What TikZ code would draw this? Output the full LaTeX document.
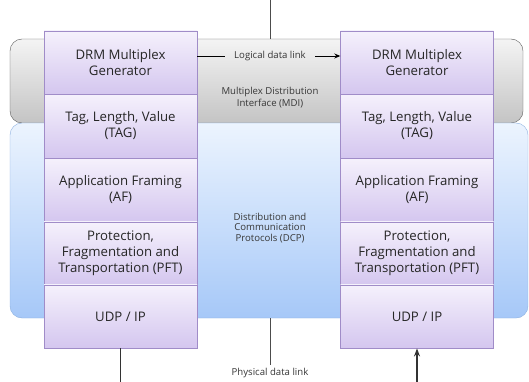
\documentclass[tikz,border=0pt]{standalone}
\usepackage{fontspec}
\setmainfont{Open Sans}
\usetikzlibrary{arrows.meta}

\definecolor{boxline}{RGB}{160,140,200}
\definecolor{boxtop}{RGB}{245,241,252}
\definecolor{boxbot}{RGB}{212,198,239}
\definecolor{mditop}{RGB}{244,244,244}
\definecolor{mdibot}{RGB}{196,196,196}
\definecolor{dcptop}{RGB}{236,244,254}
\definecolor{dcpbot}{RGB}{166,200,248}
\definecolor{dcpline}{RGB}{140,176,224}
\definecolor{notetext}{RGB}{55,55,55}

\tikzset{
  layer/.style={draw=boxline, top color=boxtop, bottom color=boxbot,
    minimum width=153pt, minimum height=63.5pt, inner sep=0pt,
    align=center, text=black!85, font=\fontsize{13.2}{16}\selectfont},
  band/.style={rounded corners=12pt, inner sep=0pt},
  note/.style={align=center, text=notetext, font=\fontsize{9.6}{12}\selectfont},
  link/.style={line width=1.2pt, black!80}
}

\begin{document}
\begin{tikzpicture}[x=1pt, y=-1pt]
\useasboundingbox (0,0) rectangle (529,382);

% bands
\node[band, draw=black!65, top color=mditop, bottom color=mdibot,
  minimum width=513pt, minimum height=84pt] (mdi) at (266.5,81) {};
\node[band, draw=dcpline, top color=dcptop, bottom color=dcpbot,
  minimum width=518pt, minimum height=195pt] (dcp) at (269,220.5) {};

\node[note] (mdilab) at (270,97.5) {Multiplex Distribution\\Interface (MDI)};
\node[note, font=\fontsize{9.6}{10.5}\selectfont] (dcplab) at (270,228) {Distribution and\\Communication\\Protocols (DCP)};
\node[note, outer xsep=6pt] (logic) at (270,56) {Logical data link};
\node[note] (phys) at (270,373) {Physical data link};

% left stack
\node[layer] (gen1) at (120.5,62.5) {DRM Multiplex\\Generator};
\node[layer] (tag1) at (120.5,126) {Tag, Length, Value\\(TAG)};
\node[layer] (af1) at (120.5,190) {Application Framing\\(AF)};
\node[layer] (pft1) at (120.5,253.5) {Protection,\\Fragmentation and\\Transportation (PFT)};
\node[layer] (udp1) at (120.5,316.5) {UDP / IP};

% right stack
\node[layer] (gen2) at (417,62.5) {DRM Multiplex\\Generator};
\node[layer] (tag2) at (417,126) {Tag, Length, Value\\(TAG)};
\node[layer] (af2) at (417,190) {Application Framing\\(AF)};
\node[layer] (pft2) at (417,253.5) {Protection,\\Fragmentation and\\Transportation (PFT)};
\node[layer] (udp2) at (417,316.5) {UDP / IP};

\coordinate (top) at (270,0);
\coordinate (out1) at (120.5,382);
\coordinate (in2) at (417,382);

\draw[black!70, line width=0.8pt] (top) -- (top |- mdi.north);
\draw[black!70, line width=0.8pt] (dcp.south -| phys) -- (phys.north);
\draw[line width=0.9pt] (gen1.east |- logic) -- (logic.west);
\draw[line width=0.9pt, -{Stealth[length=6pt, width=5pt]}] (logic.east) -- (gen2.west |- logic);
\draw[link] (udp1.south) -- (out1);
\draw[link, -{Stealth[length=8pt, width=6pt]}] (in2) -- (udp2.south);
\end{tikzpicture}
\end{document}
